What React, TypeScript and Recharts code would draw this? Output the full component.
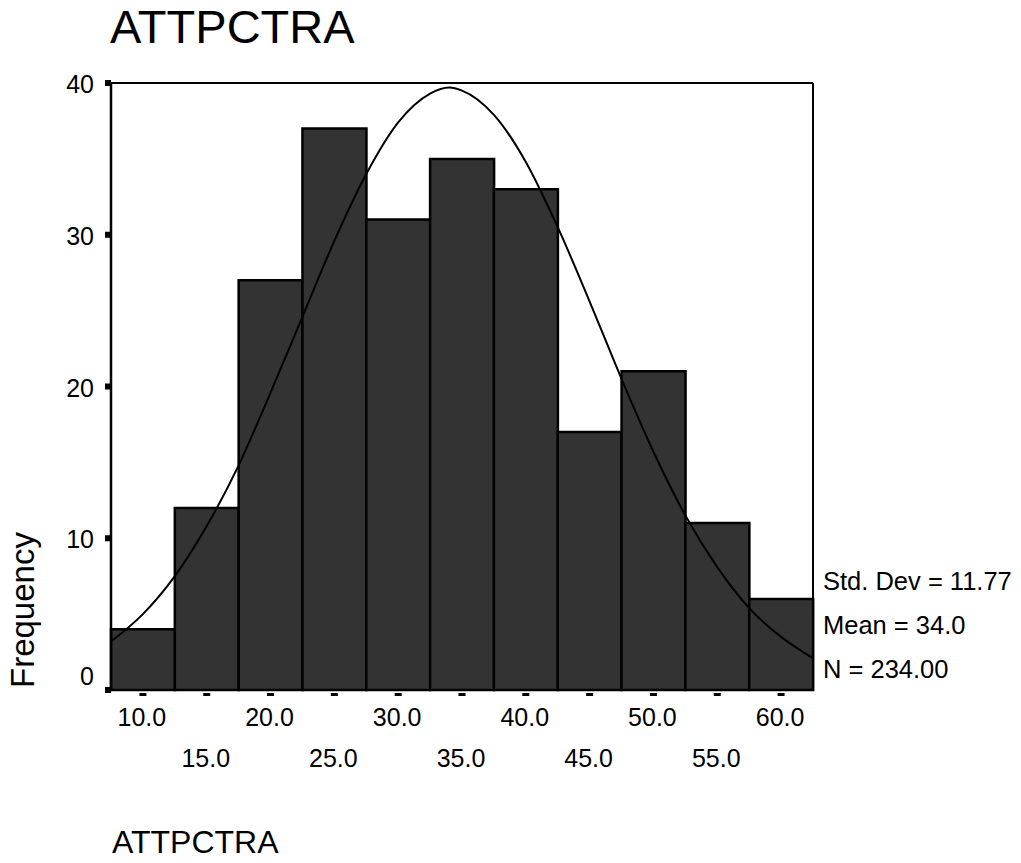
import React from "react";
import { ComposedChart, Bar, Line, XAxis, YAxis, ReferenceLine } from "recharts";

const binLabels = ["10.0", "15.0", "20.0", "25.0", "30.0", "35.0", "40.0", "45.0", "50.0", "55.0", "60.0"];
const frequencies = [4, 12, 27, 37, 31, 35, 33, 17, 21, 11, 6];
const yTicks = [0, 10, 20, 30, 40];

const curveX = [7.5, 10, 12.5, 15, 17.5, 20, 22.5, 25, 27.5, 30, 32.5, 34, 35, 37.5, 40, 42.5, 45, 47.5, 50, 52.5, 55, 57.5, 60, 62.5];
const curveY = [3.2, 5.0, 7.5, 10.8, 14.8, 19.6, 24.6, 29.6, 34.0, 37.4, 39.3, 39.7, 39.5, 37.9, 34.8, 30.5, 25.6, 20.5, 15.7, 11.5, 8.1, 5.4, 3.5, 2.1];

const titleText = "ATTPCTRA";
const yAxisTitle = "Frequency";
const xAxisTitle = "ATTPCTRA";
const statsLines = ["Std. Dev = 11.77", "Mean = 34.0", "N = 234.00"];

const barData = binLabels.map((b, i) => ({ bin: b, count: frequencies[i] }));
const curveData = curveX.map((x, i) => ({ x, y: curveY[i] }));

const FONT = "'Liberation Sans', Arial, Helvetica, sans-serif";

const XTick = (props: any) => {
  const { x, payload, index } = props;
  return (
    <g>
      <rect x={x - 3.5} y={693} width={7} height={3} fill="#000" />
      <text x={x - 1} y={index % 2 === 0 ? 726 : 767} textAnchor="middle" fontFamily={FONT} fontSize={25} fill="#000">
        {payload.value}
      </text>
    </g>
  );
};

const YTick = (props: any) => {
  const { y, payload } = props;
  const v = payload.value;
  return (
    <g>
      <rect x={105} y={y - 3} width={6} height={6} fill="#000" />
      <text x={94} y={v === 0 ? y - 5 : y + 10} textAnchor="end" fontFamily={FONT} fontSize={25} fill="#000">
        {v}
      </text>
    </g>
  );
};

export default function App() {
  return (
    <div style={{ position: "absolute", left: 0, top: 0, width: 1021, height: 863, background: "#fff" }}>
      <ComposedChart
        width={1021}
        height={863}
        data={barData}
        margin={{ top: 83, right: 208, bottom: 73, left: 0 }}
        barCategoryGap={0}
        barGap={0}
      >
        <XAxis
          dataKey="bin"
          type="category"
          height={100}
          axisLine={{ stroke: "#000", strokeWidth: 2 }}
          tickLine={false}
          tick={<XTick />}
          interval={0}
        />
        <XAxis xAxisId="num" dataKey="x" type="number" domain={[7.5, 62.5]} allowDataOverflow hide />
        <YAxis
          domain={[0, 40]}
          ticks={yTicks}
          width={111}
          axisLine={{ stroke: "#000", strokeWidth: 2.5 }}
          tickLine={false}
          tick={<YTick />}
          interval={0}
        />
        <Bar dataKey="count" fill="#333333" stroke="#000" strokeWidth={2.5} isAnimationActive={false} />
        <ReferenceLine y={40} stroke="#000" strokeWidth={2} />
        <ReferenceLine x={62.5} xAxisId="num" stroke="#000" strokeWidth={2} />
        <Line
          xAxisId="num"
          data={curveData}
          dataKey="y"
          type="monotone"
          stroke="#000"
          strokeWidth={2}
          dot={false}
          isAnimationActive={false}
        />
      </ComposedChart>
      <svg
        width={1021}
        height={863}
        style={{ position: "absolute", left: 0, top: 0, pointerEvents: "none" }}
      >
        <text x={110} y={43} fontFamily={FONT} fontSize={47} fill="#000">{titleText}</text>
        <text transform="translate(34, 688) rotate(-90)" fontFamily={FONT} fontSize={33} fill="#000">{yAxisTitle}</text>
        <text x={112} y={853} fontFamily={FONT} fontSize={32} fill="#000">{xAxisTitle}</text>
        {statsLines.map((s, i) => (
          <text key={s} x={823} y={590 + i * 44} fontFamily={FONT} fontSize={25.5} fill="#000">{s}</text>
        ))}
      </svg>
    </div>
  );
}
